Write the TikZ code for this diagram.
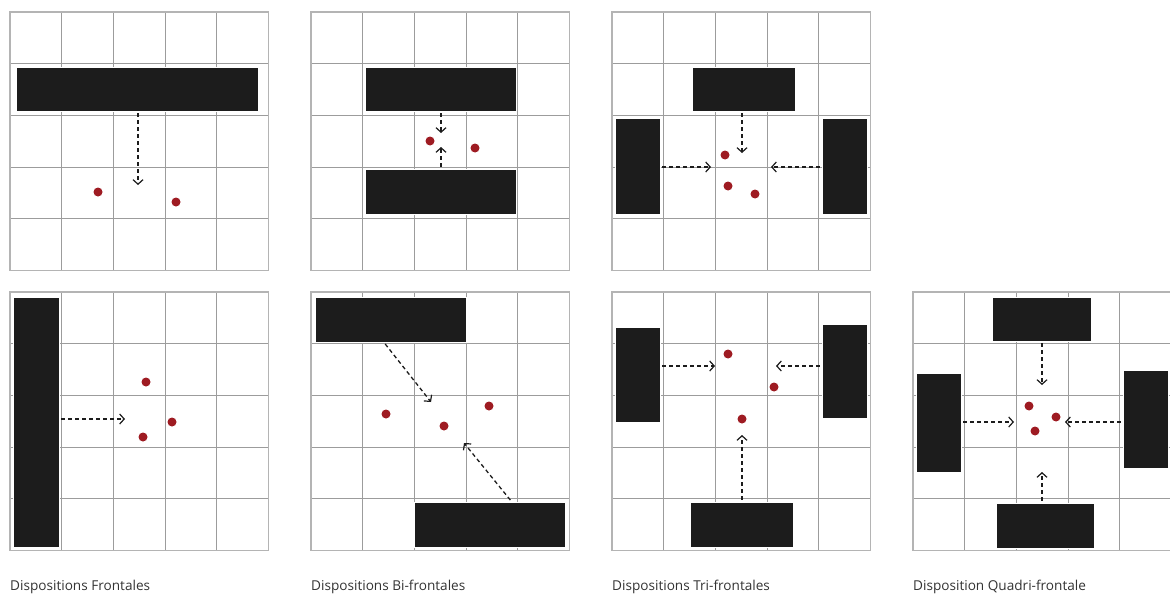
\documentclass[tikz,border=0pt]{standalone}
\usepackage{fontspec}
\setmainfont{Open Sans}
\usetikzlibrary{arrows.meta,positioning,fit}
\definecolor{Ink}{HTML}{1C1C1C}
\definecolor{GridGray}{HTML}{9C9C9C}
\definecolor{FrameGray}{HTML}{B4B4B4}
\definecolor{Seat}{HTML}{9E1B22}
\definecolor{Caption}{HTML}{333333}

% 5x5 grid of one panel, top left corner at (#1,#2)
\newcommand{\gridpanel}[2]{%
  \foreach \k in {1,...,4} {
    \draw[GridGray,line width=0.8pt] (#1+\k*51.7,#2) -- ++(0,258.5);
    \draw[GridGray,line width=0.8pt] (#1,#2+\k*51.7) -- ++(258.5,0);
  }
  \draw[FrameGray,line width=1.5pt] (#1,#2) rectangle ++(258.5,258.5);
}

\begin{document}
\begin{tikzpicture}[x=1pt,y=-1pt,
  bar/.style={fill=Ink,draw=white,line width=0.8pt,inner sep=0pt},
  seat/.style={circle,fill=Seat,inner sep=0pt,minimum size=9pt},
  flow/.style={Ink,line width=1.3pt,dash pattern=on 4pt off 3pt,shorten <=2pt,
    -{Straight Barb[length=4.5pt,width=10pt,line width=1.2pt]}},
  caption/.style={anchor=base west,inner sep=0pt,text=Caption,
    font=\fontsize{13.6}{16}\selectfont}]
  \useasboundingbox (0,0) rectangle (1170,594);

  % frontale
  \gridpanel{10}{12}
  \node[bar,fit={(16,67) (258,111)}] (front1) {};
  \coordinate (front1tip) at (138,185);
  \draw[flow] (front1.south -| front1tip) -- (front1tip);
  \node[seat] (front1s1) at (98,192) {};
  \node[seat] (front1s2) at (176,202) {};

  % bi-frontale
  \gridpanel{311}{12}
  \node[bar,fit={(365,67) (516,111)}] (bi1a) {};
  \node[bar,fit={(365,169) (516,214)}] (bi1b) {};
  \coordinate (bi1atip) at (441,133);
  \coordinate (bi1btip) at (441,147);
  \draw[flow] (bi1a.south -| bi1atip) -- (bi1atip);
  \draw[flow] (bi1b.north -| bi1btip) -- (bi1btip);
  \node[seat] (bi1s1) at (430,141) {};
  \node[seat] (bi1s2) at (475,148) {};

  % tri-frontale
  \gridpanel{612}{12}
  \node[bar,fit={(692,67) (795,111)}] (tri1a) {};
  \node[bar,fit={(615,118) (660,214)}] (tri1b) {};
  \node[bar,fit={(822,118) (867,214)}] (tri1c) {};
  \coordinate (tri1atip) at (742,153);
  \coordinate (tri1btip) at (711,167);
  \coordinate (tri1ctip) at (771,167);
  \draw[flow] (tri1a.south -| tri1atip) -- (tri1atip);
  \draw[flow] (tri1b.east |- tri1btip) -- (tri1btip);
  \draw[flow] (tri1c.west |- tri1ctip) -- (tri1ctip);
  \node[seat] (tri1s1) at (725,155) {};
  \node[seat] (tri1s2) at (728,186) {};
  \node[seat] (tri1s3) at (755,194) {};

  % frontale, lateral
  \gridpanel{10}{292}
  \node[bar,fit={(13,297) (59,547)}] (front2) {};
  \coordinate (front2tip) at (125,419);
  \draw[flow] (front2.east |- front2tip) -- (front2tip);
  \node[seat] (front2s1) at (146,382) {};
  \node[seat] (front2s2) at (172,422) {};
  \node[seat] (front2s3) at (143,437) {};
  \node[caption] (capfront) at (10,590) {Dispositions Frontales};

  % bi-frontale, offset
  \gridpanel{311}{292}
  \node[bar,fit={(315,297) (466,342)}] (bi2a) {};
  \node[bar,fit={(414,502) (565,547)}] (bi2b) {};
  \coordinate (bi2atip) at (431,402);
  \coordinate (bi2btip) at (464,443);
  \draw[flow] (bi2a.254) -- (bi2atip);
  \draw[flow] (bi2b.46) -- (bi2btip);
  \node[seat] (bi2s1) at (386,414) {};
  \node[seat] (bi2s2) at (444,426) {};
  \node[seat] (bi2s3) at (489,406) {};
  \node[caption] (capbi) at (311,590) {Dispositions Bi-frontales};

  % tri-frontale, from below
  \gridpanel{612}{292}
  \node[bar,fit={(615,327) (660,422)}] (tri2a) {};
  \node[bar,fit={(822,324) (867,418)}] (tri2b) {};
  \node[bar,fit={(690,502) (793,547)}] (tri2c) {};
  \coordinate (tri2atip) at (715,366);
  \coordinate (tri2btip) at (776,366);
  \coordinate (tri2ctip) at (742,435);
  \draw[flow] (tri2a.east |- tri2atip) -- (tri2atip);
  \draw[flow] (tri2b.west |- tri2btip) -- (tri2btip);
  \draw[flow] (tri2c.north -| tri2ctip) -- (tri2ctip);
  \node[seat] (tri2s1) at (728,354) {};
  \node[seat] (tri2s2) at (774,387) {};
  \node[seat] (tri2s3) at (742,419) {};
  \node[caption] (captri) at (612,590) {Dispositions Tri-frontales};

  % quadri-frontale
  \gridpanel{913}{292}
  \node[bar,fit={(992,297) (1091,341)}] (quadT) {};
  \node[bar,fit={(916,373) (961,472)}] (quadL) {};
  \node[bar,fit={(1123,370) (1168,468)}] (quadR) {};
  \node[bar,fit={(996,503) (1094,548)}] (quadB) {};
  \coordinate (quadTtip) at (1042,385);
  \coordinate (quadLtip) at (1014,422);
  \coordinate (quadRtip) at (1065,422);
  \coordinate (quadBtip) at (1042,472);
  \draw[flow] (quadT.south -| quadTtip) -- (quadTtip);
  \draw[flow] (quadL.east |- quadLtip) -- (quadLtip);
  \draw[flow] (quadR.west |- quadRtip) -- (quadRtip);
  \draw[flow] (quadB.north -| quadBtip) -- (quadBtip);
  \node[seat] (quads1) at (1029,406) {};
  \node[seat] (quads2) at (1056,417) {};
  \node[seat] (quads3) at (1035,431) {};
  \node[caption] (capquad) at (913,590) {Disposition Quadri-frontale};
\end{tikzpicture}
\end{document}
